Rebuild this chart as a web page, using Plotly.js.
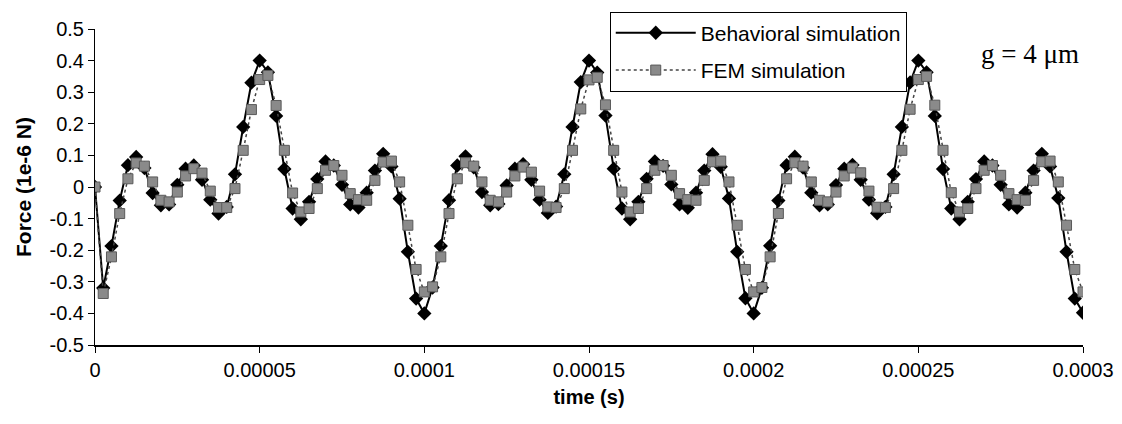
<!DOCTYPE html>
<html>
<head>
<meta charset="utf-8">
<script src="https://cdn.plot.ly/plotly-3.0.1.min.js"></script>
<style>html,body{margin:0;padding:0;background:#fff;}#chart{width:1122px;height:424px;}</style>
</head>
<body>
<div id="chart"></div>
<script>
// time (s), sampled every 2.5 microseconds
const time = [
0, 2.5e-6, 5e-6, 7.5e-6, 1e-5, 1.25e-5, 1.5e-5, 1.75e-5, 2e-5, 2.25e-5,
2.5e-5, 2.75e-5, 3e-5, 3.25e-5, 3.5e-5, 3.75e-5, 4e-5, 4.25e-5, 4.5e-5, 4.75e-5,
5e-5, 5.25e-5, 5.5e-5, 5.75e-5, 6e-5, 6.25e-5, 6.5e-5, 6.75e-5, 7e-5, 7.25e-5,
7.5e-5, 7.75e-5, 8e-5, 8.25e-5, 8.5e-5, 8.75e-5, 9e-5, 9.25e-5, 9.5e-5, 9.75e-5,
1e-4, 1.025e-4, 1.05e-4, 1.075e-4, 1.1e-4, 1.125e-4, 1.15e-4, 1.175e-4, 1.2e-4, 1.225e-4,
1.25e-4, 1.275e-4, 1.3e-4, 1.325e-4, 1.35e-4, 1.375e-4, 1.4e-4, 1.425e-4, 1.45e-4, 1.475e-4,
1.5e-4, 1.525e-4, 1.55e-4, 1.575e-4, 1.6e-4, 1.625e-4, 1.65e-4, 1.675e-4, 1.7e-4, 1.725e-4,
1.75e-4, 1.775e-4, 1.8e-4, 1.825e-4, 1.85e-4, 1.875e-4, 1.9e-4, 1.925e-4, 1.95e-4, 1.975e-4,
2e-4, 2.025e-4, 2.05e-4, 2.075e-4, 2.1e-4, 2.125e-4, 2.15e-4, 2.175e-4, 2.2e-4, 2.225e-4,
2.25e-4, 2.275e-4, 2.3e-4, 2.325e-4, 2.35e-4, 2.375e-4, 2.4e-4, 2.425e-4, 2.45e-4, 2.475e-4,
2.5e-4, 2.525e-4, 2.55e-4, 2.575e-4, 2.6e-4, 2.625e-4, 2.65e-4, 2.675e-4, 2.7e-4, 2.725e-4,
2.75e-4, 2.775e-4, 2.8e-4, 2.825e-4, 2.85e-4, 2.875e-4, 2.9e-4, 2.925e-4, 2.95e-4, 2.975e-4,
3e-4
];

// Behavioral simulation force (1e-6 N)
const behavioral = [
0, -0.32, -0.187, -0.043, 0.069, 0.095, 0.06, -0.019, -0.058, -0.055,
0.007, 0.058, 0.068, 0.023, -0.04, -0.084, -0.063, 0.04, 0.19, 0.33,
0.40, 0.363, 0.225, 0.057, -0.068, -0.102, -0.047, 0.025, 0.081, 0.068,
0.007, -0.055, -0.065, -0.018, 0.052, 0.105, 0.065, -0.037, -0.205, -0.353,
-0.40, -0.318, -0.187, -0.042, 0.068, 0.097, 0.062, -0.016, -0.058, -0.054,
0.005, 0.058, 0.072, 0.023, -0.04, -0.082, -0.062, 0.04, 0.19, 0.332,
0.40, 0.362, 0.226, 0.058, -0.068, -0.102, -0.047, 0.026, 0.081, 0.067,
0.008, -0.055, -0.066, -0.018, 0.052, 0.104, 0.064, -0.036, -0.205, -0.352,
-0.40, -0.319, -0.186, -0.043, 0.069, 0.096, 0.061, -0.018, -0.058, -0.055,
0.006, 0.058, 0.07, 0.023, -0.04, -0.083, -0.063, 0.04, 0.19, 0.331,
0.40, 0.363, 0.225, 0.057, -0.068, -0.102, -0.047, 0.025, 0.081, 0.068,
0.007, -0.055, -0.065, -0.018, 0.052, 0.105, 0.065, -0.035, -0.205, -0.353,
-0.398
];

// FEM simulation force (1e-6 N)
const fem = [
0, -0.337, -0.221, -0.084, 0.026, 0.076, 0.066, 0.016, -0.042, -0.047,
-0.016, 0.035, 0.058, 0.044, -0.013, -0.065, -0.065, -0.005, 0.116, 0.245,
0.34, 0.353, 0.258, 0.116, -0.019, -0.079, -0.068, -0.005, 0.053, 0.068,
0.037, -0.021, -0.04, -0.042, 0.021, 0.079, 0.082, 0.016, -0.121, -0.261,
-0.332, -0.316, -0.221, -0.084, 0.026, 0.077, 0.066, 0.016, -0.042, -0.047,
-0.016, 0.035, 0.063, 0.047, -0.013, -0.063, -0.065, -0.005, 0.116, 0.247,
0.339, 0.347, 0.26, 0.116, -0.016, -0.079, -0.068, -0.005, 0.053, 0.068,
0.037, -0.021, -0.04, -0.042, 0.021, 0.08, 0.082, 0.016, -0.121, -0.261,
-0.332, -0.318, -0.221, -0.084, 0.026, 0.077, 0.066, 0.016, -0.042, -0.047,
-0.016, 0.035, 0.06, 0.045, -0.013, -0.064, -0.065, -0.005, 0.116, 0.246,
0.34, 0.35, 0.259, 0.116, -0.018, -0.079, -0.068, -0.005, 0.053, 0.068,
0.037, -0.021, -0.04, -0.042, 0.021, 0.08, 0.082, 0.016, -0.121, -0.261,
-0.332
];

const xTickVals = [0, 0.00005, 0.0001, 0.00015, 0.0002, 0.00025, 0.0003];
const xTickText = ["0", "0.00005", "0.0001", "0.00015", "0.0002", "0.00025", "0.0003"];
const yTickVals = [0.5, 0.4, 0.3, 0.2, 0.1, 0, -0.1, -0.2, -0.3, -0.4, -0.5];
const yTickText = ["0.5", "0.4", "0.3", "0.2", "0.1", "0", "-0.1", "-0.2", "-0.3", "-0.4", "-0.5"];

const seriesNames = ["Behavioral simulation", "FEM simulation"];
const annotationText = "g = 4 \u03bcm";

const FONT = "Arial, 'Liberation Sans', sans-serif";

const traces = [
  {
    x: time, y: behavioral, name: seriesNames[0], type: "scatter", mode: "lines+markers",
    legendgroup: "a",
    line: {color: "#000000", width: 2},
    marker: {symbol: "diamond", size: 11, color: "#000000"}
  },
  {
    x: time, y: fem, name: seriesNames[1], type: "scatter", mode: "lines+markers",
    legendgroup: "b",
    line: {color: "#444444", width: 1.5, dash: "dot"},
    marker: {symbol: "square", size: 10, color: "#8a8a8a", line: {color: "#5a5a5a", width: 1}}
  }
];

const layout = {
  width: 1122, height: 424,
  margin: {l: 95, r: 39, t: 27, b: 79},
  paper_bgcolor: "#ffffff", plot_bgcolor: "#ffffff",
  font: {family: FONT, size: 19, color: "#000000"},
  showlegend: true,
  legend: {
    x: 0.521, y: 1.055, xanchor: "left", yanchor: "top",
    bordercolor: "#000000", borderwidth: 1, bgcolor: "#ffffff",
    font: {family: FONT, size: 21, color: "#000000"},
    itemwidth: 80, traceorder: "grouped", tracegroupgap: 7
  },
  xaxis: {
    range: [0, 0.0003],
    tickmode: "array", tickvals: xTickVals, ticktext: xTickText,
    ticks: "outside", ticklen: 6, tickcolor: "#000000", tickwidth: 1,
    showline: true, linecolor: "#000000", linewidth: 2,
    showgrid: false, zeroline: false,
    tickfont: {family: FONT, size: 20},
    title: {text: "<b>time (s)</b>", font: {family: FONT, size: 20}, standoff: 10}
  },
  yaxis: {
    range: [-0.5, 0.5],
    tickmode: "array", tickvals: yTickVals, ticktext: yTickText,
    ticks: "outside", ticklen: 6, tickcolor: "#000000", tickwidth: 1,
    showline: true, linecolor: "#000000", linewidth: 1,
    showgrid: false, zeroline: false,
    tickfont: {family: FONT, size: 20},
    title: {text: "<b>Force (1e-6 N)</b>", font: {family: FONT, size: 21}, standoff: 12}
  },
  annotations: [
    {
      text: annotationText, xref: "paper", yref: "paper",
      x: 0.998, y: 0.92, xanchor: "right", yanchor: "middle",
      showarrow: false,
      font: {family: "'Times New Roman', 'Liberation Serif', serif", size: 27, color: "#000000"}
    }
  ]
};

Plotly.newPlot("chart", traces, layout, {displayModeBar: false, staticPlot: true});
</script>
</body>
</html>
